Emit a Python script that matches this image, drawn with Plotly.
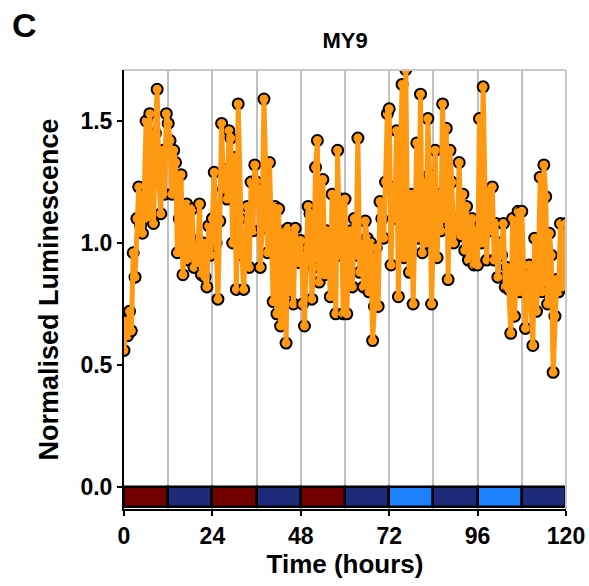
import numpy as np
import plotly.graph_objects as go

# ---- data ----
step_hours = 0.5
lum_values = [
    # 0-12 h
    0.56, 0.68, 0.62, 0.72, 0.64, 0.96, 0.86, 1.10, 1.23, 1.07, 1.04, 1.20, 1.50, 1.10, 1.53, 1.30, 1.08, 1.45, 1.63, 1.25, 1.12, 1.38, 1.20, 1.53,
    # 12-24 h
    1.49, 1.42, 1.20, 1.38, 1.33, 0.96, 1.10, 1.28, 0.87, 1.05, 1.16, 0.93, 1.02, 1.14, 0.90, 0.98, 0.92, 1.16, 0.87, 1.00, 0.86, 0.82, 1.07, 0.95,
    # 24-36 h
    1.10, 1.29, 1.00, 0.77, 1.09, 1.49, 1.22, 1.30, 1.18, 1.46, 1.43, 1.00, 1.35, 0.81, 1.57, 1.10, 0.95, 0.81, 1.02, 1.15, 0.90, 1.25, 1.05, 1.32,
    # 36-48 h
    1.25, 1.22, 0.90, 1.06, 1.59, 1.20, 0.96, 1.33, 1.05, 0.76, 1.15, 0.71, 1.14, 0.66, 0.95, 1.05, 0.59, 1.06, 0.80, 1.04, 0.75, 1.06, 0.98, 0.92,
    # 48-60 h
    1.01, 0.75, 0.66, 0.95, 1.15, 1.12, 0.77, 0.90, 1.31, 1.42, 0.84, 1.05, 1.26, 0.87, 1.05, 0.98, 0.78, 1.20, 1.02, 0.71, 1.38, 0.95, 1.18, 0.71,
    # 60-72 h
    1.18, 0.71, 1.00, 1.05, 0.82, 1.10, 0.95, 1.43, 0.88, 1.00, 0.82, 1.09, 1.02, 0.80, 1.00, 0.60, 0.74, 0.98, 0.74, 1.17, 1.10, 1.02, 1.25, 1.53,
    # 72-84 h
    1.55, 0.91, 1.23, 1.10, 1.46, 0.78, 1.30, 1.65, 0.94, 1.71, 1.00, 0.88, 1.20, 0.75, 1.08, 1.41, 1.02, 1.61, 0.96, 1.25, 1.00, 1.51, 1.28, 0.75,
    # 84-96 h
    1.04, 1.38, 0.94, 1.20, 1.05, 1.57, 1.10, 1.47, 0.85, 1.38, 1.25, 1.00, 1.10, 1.05, 1.33, 1.03, 1.20, 0.97, 1.15, 0.93, 1.00, 1.10, 0.91, 1.05,
    # 96-108 h
    0.91, 1.51, 1.00, 1.64, 1.20, 0.93, 1.22, 1.05, 1.23, 0.93, 1.08, 0.86, 1.00, 0.95, 1.08, 0.82, 0.90, 0.81, 0.63, 1.10, 0.70, 0.85, 1.13, 0.80,
    # 108-120 h
    1.13, 0.91, 0.65, 0.80, 0.91, 0.75, 0.58, 1.02, 0.72, 0.90, 1.27, 0.80, 1.32, 1.19, 0.75, 1.04, 0.95, 0.47, 0.70, 0.85, 0.80, 1.08, 0.82, 0.86, 1.08,
]
time_hours = [i * step_hours for i in range(len(lum_values))]

# condition bar along the bottom (12 h blocks)
block_starts = [0, 12, 24, 36, 48, 60, 72, 84, 96, 108]
block_length = 12
block_colors = ["#730000", "#1d2b78", "#730000", "#1d2b78", "#730000",
                "#1d2b78", "#1c80ff", "#1d2b78", "#1c80ff", "#1d2b78"]
block_depth = -0.08

x_ticks = [0, 24, 48, 72, 96, 120]
y_ticks = [0.0, 0.5, 1.0, 1.5]

FONT = "Arial, Liberation Sans, sans-serif"
ORANGE = "#ff9912"

fig = go.Figure()

fig.add_trace(go.Bar(
    x=[s + block_length / 2 for s in block_starts],
    y=[block_depth] * len(block_starts),
    base=0,
    width=block_length,
    marker=dict(color=block_colors, line=dict(color="black", width=2.5)),
    showlegend=False, hoverinfo="skip",
))

# black rings
fig.add_trace(go.Scatter(
    x=time_hours, y=lum_values, mode="markers",
    marker=dict(size=11, color=ORANGE, line=dict(color="black", width=2)),
    showlegend=False,
))
# orange line on top
fig.add_trace(go.Scatter(
    x=time_hours, y=lum_values, mode="lines+markers",
    line=dict(color=ORANGE, width=5),
    marker=dict(size=6, color=ORANGE),
    showlegend=False,
))

fig.update_layout(
    width=589, height=586,
    margin=dict(l=124, r=23, t=70, b=77, autoexpand=False),
    paper_bgcolor="white", plot_bgcolor="white",
    font=dict(family=FONT, color="black"),
    bargap=0,
    title=dict(text="<b>MY9</b>", x=(124 + 566) / 2 / 589, xanchor="center",
               y=1 - 40 / 586, yanchor="middle", font=dict(size=22)),
    annotations=[dict(text="<b>C</b>", xref="paper", yref="paper",
                      x=-114 / 442, y=1 + 45 / 439, xanchor="left", yanchor="middle",
                      showarrow=False, font=dict(size=34, family=FONT))],
    shapes=[
        dict(type="line", xref="paper", yref="paper", x0=0, x1=1, y0=1, y1=1,
             line=dict(color="#c8c8c8", width=2)),
        dict(type="line", xref="paper", yref="paper", x0=1, x1=1, y0=0, y1=1,
             line=dict(color="#c8c8c8", width=2)),
    ],
)

fig.update_xaxes(
    range=[0, 120], tickvals=x_ticks, ticktext=[str(v) for v in x_ticks],
    automargin=False,
    showgrid=True, gridcolor="#c0c0c0", gridwidth=2,
    minor=dict(tick0=0, dtick=12, showgrid=True, gridcolor="#c0c0c0", gridwidth=2),
    showline=True, linecolor="black", linewidth=2,
    ticks="outside", ticklen=5, tickwidth=2, tickcolor="black",
    tickfont=dict(size=23, family=FONT, weight="bold"),
    title=dict(text="<b>Time (hours)</b>", font=dict(size=26), standoff=4),
    zeroline=False,
)
fig.update_yaxes(
    range=[-0.09, 1.709], tickvals=y_ticks, ticktext=[f"{v:.1f}" for v in y_ticks],
    automargin=False,
    showgrid=False, showline=True, linecolor="black", linewidth=2,
    ticks="outside", ticklen=5, tickwidth=2, tickcolor="black",
    tickfont=dict(size=23, family=FONT, weight="bold"),
    title=dict(text="<b>Normalised Luminescence</b>", font=dict(size=27), standoff=14),
    zeroline=False,
)

fig.write_html("out.html")
